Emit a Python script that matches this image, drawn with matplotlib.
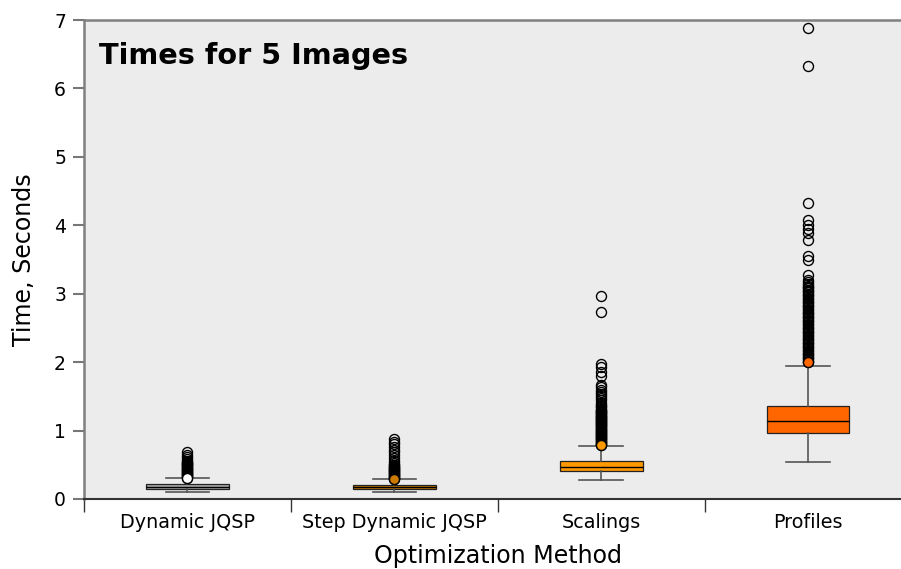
import matplotlib
matplotlib.use("Agg")
import matplotlib.pyplot as plt
import numpy as np

# Summary statistics per optimization method (seconds)
methods = ["Dynamic JQSP", "Step Dynamic JQSP", "Scalings", "Profiles"]
q1 = [0.15, 0.15, 0.41, 0.965]
medians = [0.18, 0.17, 0.47, 1.14]
q3 = [0.22, 0.20, 0.56, 1.36]
whisker_low = [0.10, 0.10, 0.28, 0.54]
whisker_high = [0.31, 0.29, 0.78, 1.94]
box_colors = ["#a8a8a8", "#cc7a00", "#ff9900", "#ff6600"]

# Outlying run times for each method
fliers_dynamic = [0.30, 0.32, 0.33, 0.34, 0.35, 0.36, 0.37, 0.38, 0.39, 0.40,
                  0.41, 0.42, 0.43, 0.44, 0.45, 0.46, 0.47, 0.48, 0.49, 0.50,
                  0.51, 0.52, 0.53, 0.54, 0.56, 0.58, 0.62, 0.65, 0.69]
fliers_step = [0.29, 0.30, 0.31, 0.32, 0.33, 0.34, 0.35, 0.36, 0.37, 0.38,
               0.39, 0.40, 0.41, 0.42, 0.43, 0.44, 0.45, 0.46, 0.47, 0.48,
               0.49, 0.50, 0.53, 0.56, 0.60, 0.64, 0.68, 0.72, 0.76, 0.80,
               0.84, 0.87]
fliers_scalings = [0.79, 0.80, 0.81, 0.82, 0.83, 0.84, 0.85, 0.86, 0.87, 0.88,
                   0.89, 0.90, 0.91, 0.92, 0.93, 0.94, 0.95, 0.96, 0.97, 0.98,
                   0.99, 1.00, 1.01, 1.02, 1.03, 1.04, 1.05, 1.06, 1.07, 1.08,
                   1.09, 1.10, 1.11, 1.12, 1.13, 1.14, 1.15, 1.16, 1.17, 1.18,
                   1.19, 1.20, 1.21, 1.22, 1.23, 1.24, 1.25, 1.26, 1.27, 1.28,
                   1.29, 1.30, 1.32, 1.34, 1.36, 1.38, 1.41, 1.44, 1.47, 1.50,
                   1.53, 1.56, 1.60, 1.63, 1.66, 1.80, 1.85, 1.93, 1.97,
                   2.74, 2.97]
fliers_profiles = [2.00, 2.02, 2.04, 2.06, 2.08, 2.10, 2.12, 2.14, 2.16, 2.18,
                   2.20, 2.22, 2.24, 2.26, 2.28, 2.30, 2.32, 2.34, 2.36, 2.38,
                   2.40, 2.42, 2.44, 2.46, 2.48, 2.50, 2.52, 2.54, 2.56, 2.58,
                   2.60, 2.62, 2.64, 2.66, 2.68, 2.70, 2.72, 2.74, 2.76, 2.78,
                   2.80, 2.82, 2.84, 2.86, 2.88, 2.90, 2.92, 2.94, 2.96, 2.98,
                   3.00, 3.02, 3.04, 3.06, 3.08, 3.10, 3.12, 3.14, 3.17, 3.20,
                   3.27, 3.50, 3.55, 3.78, 3.88, 3.95, 4.00, 4.07, 4.32,
                   6.33, 6.88]
fliers = [fliers_dynamic, fliers_step, fliers_scalings, fliers_profiles]

y_ticks = [0, 1, 2, 3, 4, 5, 6, 7]

fig = plt.figure(figsize=(9.01, 5.69), dpi=100)
ax = fig.add_axes([84 / 901, 1 - 499 / 569, 827.5 / 901, 479 / 569])
ax.set_facecolor("#ececec")

positions = np.arange(len(methods))
stats = []
for i, name in enumerate(methods):
    stats.append(dict(label=name, med=medians[i], q1=q1[i], q3=q3[i],
                      whislo=whisker_low[i], whishi=whisker_high[i],
                      fliers=[]))

bp = ax.bxp(stats, positions=positions, widths=0.4, patch_artist=True,
            showfliers=False,
            boxprops=dict(edgecolor="#222222", linewidth=0.9),
            medianprops=dict(color="black", linewidth=1.0),
            whiskerprops=dict(color="#555555", linewidth=1.2),
            capprops=dict(color="#555555", linewidth=1.2),
            capwidths=0.21)
for patch, c in zip(bp["boxes"], box_colors):
    patch.set_facecolor(c)

# Outlier markers: open circles, the one nearest the whisker filled with the box colour
for i, vals in enumerate(fliers):
    vals = np.asarray(vals)
    ax.plot(np.full(len(vals), positions[i]), vals, linestyle="none",
            marker="o", markersize=7.2, markerfacecolor="none",
            markeredgecolor="black", markeredgewidth=1.0, zorder=3)
    low = vals.min()
    fc = "white" if i == 0 else box_colors[i]
    ax.plot([positions[i]], [low], linestyle="none", marker="o", markersize=7.2,
            markerfacecolor=fc, markeredgecolor="black",
            markeredgewidth=1.0, zorder=4)

ax.set_xlim(-0.5, 3.5)
ax.set_ylim(0, 7)
ax.set_yticks(y_ticks)
ax.set_yticklabels([str(v) for v in y_ticks])

ax.set_xticks([-0.5, 0.5, 1.5, 2.5])
ax.set_xticklabels([])
ax.set_xticks(positions, minor=True)
ax.set_xticklabels(methods, minor=True)
ax.tick_params(axis="x", which="major", length=9, width=1, color="#333333", direction="out")
ax.tick_params(axis="x", which="minor", length=0, labelsize=13.8, pad=10)
ax.tick_params(axis="y", length=8, width=1.5, color="#777777", labelsize=13.5, pad=5)

for side in ["left", "top"]:
    ax.spines[side].set_color("#808080")
    ax.spines[side].set_linewidth(1.8)
ax.spines["bottom"].set_color("#333333")
ax.spines["bottom"].set_linewidth(1.5)
ax.spines["right"].set_visible(False)

ax.set_xlabel("Optimization Method", fontsize=17.1, labelpad=9)
ax.set_ylabel("Time, Seconds", fontsize=17.1, labelpad=13)

ax.text(0.018, 0.925, "Times for 5 Images", transform=ax.transAxes,
        fontsize=20.7, fontweight="bold", va="center", ha="left")

fig.savefig("out.png", dpi=100)
